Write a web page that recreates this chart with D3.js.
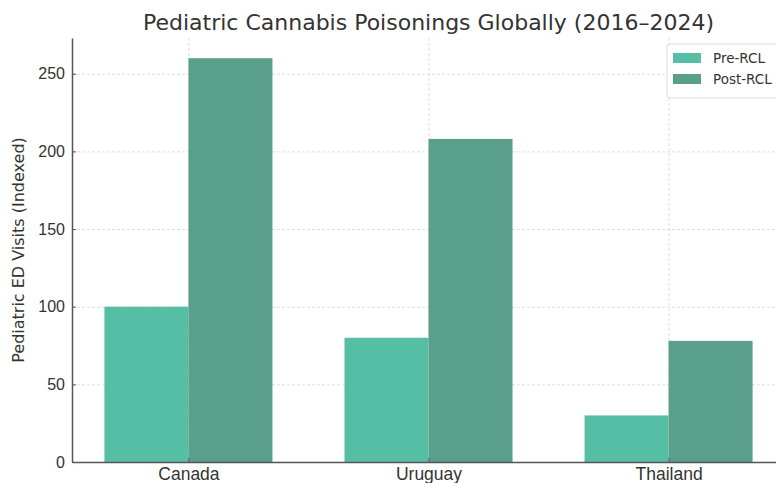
<!DOCTYPE html>
<html>
<head>
<meta charset="utf-8">
<script src="https://cdn.jsdelivr.net/npm/d3@7"></script>
<style>
  body { margin: 0; background: #fff; overflow: hidden; }
  svg { font-family: 'DejaVu Sans', sans-serif; }
  .grid line { stroke: #d6d6d6; stroke-dasharray: 3,2; stroke-width: 0.8; }
  .grid path { display: none; }
  .axis path, .axis line { stroke: #555; }
  .axis text { fill: #333; font-size: 16px; }
  .x-axis text { font-size: 17.5px; }
</style>
</head>
<body>
<div id="chart"></div>
<script>
// data
const countries = ['Canada', 'Uruguay', 'Thailand']
const seriesNames = ['Pre-RCL', 'Post-RCL']
const preRCL = [100, 80, 30]
const postRCL = [260, 208, 78]
const yTicks = [0, 50, 100, 150, 200, 250]
const colors = ['#57bea6', '#5a9f8c']

const width = 776
const height = 483
const margin = { top: 38, right: -9, bottom: 21, left: 72 }
const innerW = width - margin.left - margin.right
const innerH = height - margin.top - margin.bottom

const svg = d3.select('#chart').append('svg')
  .attr('width', width)
  .attr('height', height)

const g = svg.append('g')
  .attr('transform', `translate(${margin.left},${margin.top})`)

// x: category index, bar width 0.35, matplotlib 5% margins
const barW = 0.35
const lo = -barW, hi = countries.length - 1 + barW
const pad = (hi - lo) * 0.05
const x = d3.scaleLinear().domain([lo - pad, hi + pad]).range([0, innerW])
const y = d3.scaleLinear().domain([0, d3.max(postRCL) * 1.05]).range([innerH, 0])

// grid
g.append('g').attr('class', 'grid')
  .call(d3.axisLeft(y).tickValues(yTicks).tickSize(-innerW).tickFormat(''))
g.append('g').attr('class', 'grid')
  .call(d3.axisBottom(x).tickValues(countries.map((d, i) => i)).tickSize(innerH).tickFormat(''))

// bars
const series = [preRCL, postRCL]
series.forEach((vals, s) => {
  g.selectAll(null)
    .data(vals)
    .join('rect')
    .attr('x', (d, i) => x(i + (s === 0 ? -barW : 0)))
    .attr('y', d => y(d))
    .attr('width', x(barW) - x(0))
    .attr('height', d => innerH - y(d))
    .attr('fill', colors[s])
})

// axes
const yAxis = g.append('g').attr('class', 'axis')
  .call(d3.axisLeft(y).tickValues(yTicks).tickSizeInner(-4).tickSizeOuter(0).tickPadding(7))
yAxis.select('.domain').attr('stroke-width', 1.5)

const xAxis = g.append('g').attr('class', 'axis x-axis')
  .attr('transform', `translate(0,${innerH})`)
  .call(d3.axisBottom(x).tickValues(countries.map((d, i) => i))
    .tickFormat(i => countries[i]).tickSizeInner(-4).tickSizeOuter(0).tickPadding(6))
xAxis.select('.domain').attr('stroke-width', 1.5)

// title
svg.append('text')
  .attr('x', margin.left + innerW / 2)
  .attr('y', 30)
  .attr('text-anchor', 'middle')
  .style('font-size', '22px')
  .attr('fill', '#333')
  .text('Pediatric Cannabis Poisonings Globally (2016\u20132024)')

// y label
svg.append('text')
  .attr('transform', `translate(24,${margin.top + innerH / 2}) rotate(-90)`)
  .attr('text-anchor', 'middle')
  .style('font-size', '16px')
  .attr('fill', '#333')
  .text('Pediatric ED Visits (Indexed)')

// legend
const legend = g.append('g').attr('transform', `translate(${667 - margin.left},${44 - margin.top})`)
legend.append('rect')
  .attr('width', 125).attr('height', 54).attr('rx', 3)
  .attr('fill', 'rgba(255,255,255,0.85)')
  .attr('stroke', '#ddd')
seriesNames.forEach((name, i) => {
  legend.append('rect')
    .attr('x', 6).attr('y', 9 + i * 21)
    .attr('width', 28).attr('height', 10)
    .attr('fill', colors[i])
  legend.append('text')
    .attr('x', 46).attr('y', 19 + i * 21)
    .style('font-size', '13.5px')
    .attr('fill', '#333')
    .text(name)
})
</script>
</body>
</html>
